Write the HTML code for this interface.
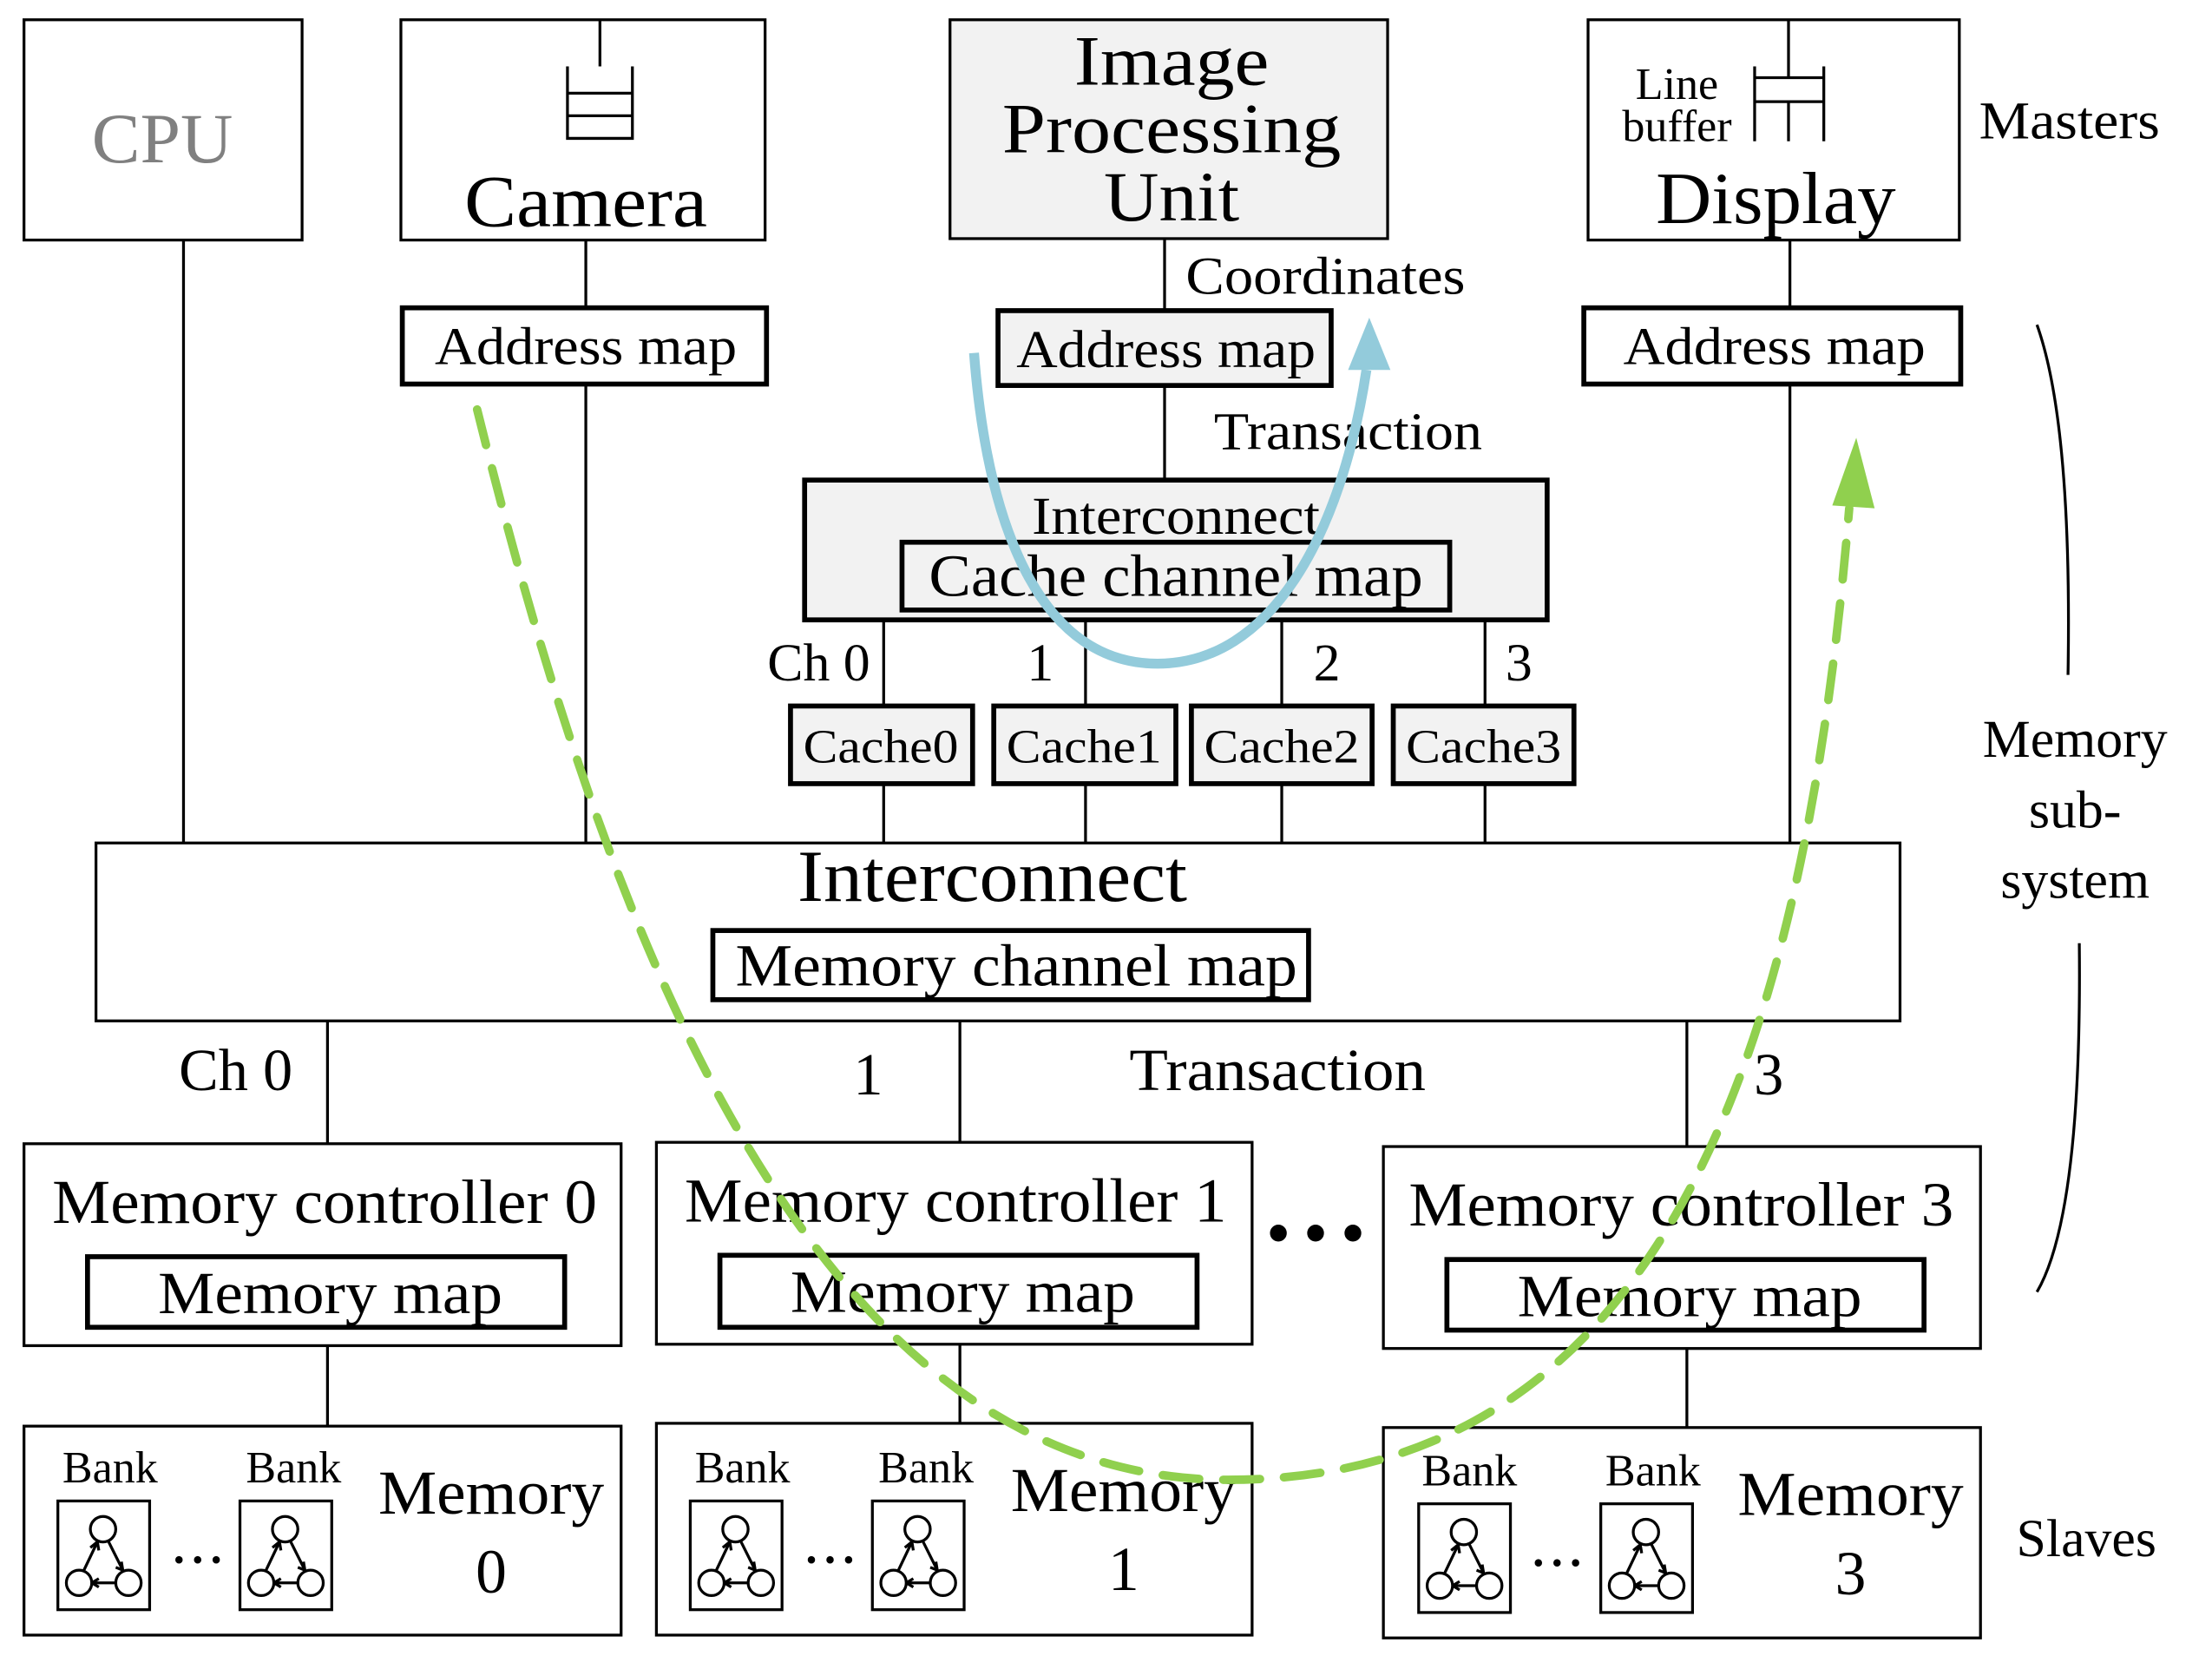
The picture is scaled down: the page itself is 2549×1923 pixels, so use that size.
<!DOCTYPE html>
<html><head><meta charset="utf-8"><style>
html,body{margin:0;padding:0;background:#fff}
svg{display:block}
text{font-family:"Liberation Serif",serif;fill:#000}
</style></head><body>
<svg width="2549" height="1923" viewBox="0 0 1567 1182" preserveAspectRatio="none" xmlns="http://www.w3.org/2000/svg">
<defs>
<g id="bank">
<rect x="0" y="0" width="65" height="77" fill="none" stroke="#000" stroke-width="2"/>
<circle cx="32" cy="20" r="9" fill="none" stroke="#000" stroke-width="2"/>
<circle cx="15" cy="58" r="9" fill="none" stroke="#000" stroke-width="2"/>
<circle cx="50" cy="58" r="9" fill="none" stroke="#000" stroke-width="2"/>
<path d="M28 29 L18 50 M36 29 L46 49 M41 58 L24 58" stroke="#000" stroke-width="2" fill="none"/>
<path d="M28 29 l-5 4 M28 29 l1 6 M46 49 l-1-6 M46 49 l-5-2 M24 58 l5-3 M24 58 l5 3" stroke="#000" stroke-width="2" fill="none"/>
</g>
</defs>
<g fill="none" stroke="#000" stroke-width="2">
<rect x="17" y="14" width="197" height="156"/>
<rect x="284" y="14" width="258" height="156"/>
<rect x="673" y="14" width="310" height="155" fill="#f2f2f2"/>
<rect x="1125" y="14" width="263" height="156"/>
<path d="M425 14 V47 M402 47 V98 H448 V47 M402 66 H448 M402 82 H448"/>
<path d="M1267 14 V55 M1243 47 V100 M1292 47 V100 M1243 55 H1292 M1243 72 H1292 M1267 72 V100"/>
<path d="M130 170 V597 M415 170 V218 M415 272 V597 M825 169 V220 M825 273 V340 M1268 170 V218 M1268 272 V597"/>
<path d="M626 439 V500 M769 439 V500 M908 439 V500 M1052 439 V500 M626 555 V597 M769 555 V597 M908 555 V597 M1052 555 V597"/>
<rect x="68" y="597" width="1278" height="126"/>
<path d="M232 723 V810 M680 723 V809 M1195 723 V812 M232 953 V1010 M680 952 V1008 M1195 955 V1011"/>
<rect x="17" y="810" width="423" height="143"/>
<rect x="465" y="809" width="422" height="143"/>
<rect x="980" y="812" width="423" height="143"/>
<rect x="17" y="1010" width="423" height="148"/>
<rect x="465" y="1008" width="422" height="150"/>
<rect x="980" y="1011" width="423" height="149"/>
</g>
<g fill="none" stroke="#000" stroke-width="3.5">
<rect x="285" y="218" width="258" height="54"/>
<rect x="707" y="220" width="236" height="53" fill="#f2f2f2"/>
<rect x="1122" y="218" width="267" height="54"/>
<rect x="570" y="340" width="526" height="99" fill="#f2f2f2"/>
<rect x="639" y="384" width="388" height="48"/>
<rect x="560" y="500" width="129" height="55" fill="#f2f2f2"/>
<rect x="704" y="500" width="129" height="55" fill="#f2f2f2"/>
<rect x="844" y="500" width="128" height="55" fill="#f2f2f2"/>
<rect x="987" y="500" width="128" height="55" fill="#f2f2f2"/>
<rect x="505" y="659" width="422" height="49"/>
<rect x="62" y="890" width="338" height="50"/>
<rect x="510" y="889" width="338" height="51"/>
<rect x="1025" y="892" width="338" height="50"/>
</g>
<use href="#bank" x="41" y="1063"/><use href="#bank" x="170" y="1063"/>
<use href="#bank" x="489" y="1063"/><use href="#bank" x="618" y="1063"/>
<use href="#bank" x="1005" y="1065"/><use href="#bank" x="1134" y="1065"/>
<path d="M1443 230 Q1468 300 1465 478 M1473 668 Q1475 860 1443 915" fill="none" stroke="#000" stroke-width="2"/>
<g text-anchor="middle" font-size="38">
<text x="115" y="115" font-size="50" fill="#808080" style="fill:#808080" textLength="100" lengthAdjust="spacingAndGlyphs">CPU</text>
<text x="415" y="160" font-size="52" textLength="172" lengthAdjust="spacingAndGlyphs">Camera</text>
<text x="830" y="60" font-size="50" textLength="138" lengthAdjust="spacingAndGlyphs">Image</text>
<text x="830" y="108" font-size="50" textLength="240" lengthAdjust="spacingAndGlyphs">Processing</text>
<text x="830" y="156" font-size="50" textLength="96" lengthAdjust="spacingAndGlyphs">Unit</text>
<text x="1188" y="70" font-size="32">Line</text>
<text x="1188" y="100" font-size="32">buffer</text>
<text x="1258" y="158" font-size="52" textLength="170" lengthAdjust="spacingAndGlyphs">Display</text>
<text x="1466" y="98" textLength="128" lengthAdjust="spacingAndGlyphs">Masters</text>
<text x="415" y="258" textLength="214" lengthAdjust="spacingAndGlyphs">Address map</text>
<text x="826" y="260" textLength="212" lengthAdjust="spacingAndGlyphs">Address map</text>
<text x="1257" y="258" textLength="214" lengthAdjust="spacingAndGlyphs">Address map</text>
<text x="939" y="208" textLength="198" lengthAdjust="spacingAndGlyphs">Coordinates</text>
<text x="955" y="318" textLength="190" lengthAdjust="spacingAndGlyphs">Transaction</text>
<text x="833" y="378" textLength="204" lengthAdjust="spacingAndGlyphs">Interconnect</text>
<text x="833" y="422" font-size="42" textLength="350" lengthAdjust="spacingAndGlyphs">Cache channel map</text>
<text x="580" y="482">Ch 0</text>
<text x="737" y="482">1</text>
<text x="940" y="482">2</text>
<text x="1076" y="482">3</text>
<text x="624" y="540" font-size="34" textLength="110" lengthAdjust="spacingAndGlyphs">Cache0</text>
<text x="768" y="540" font-size="34" textLength="110" lengthAdjust="spacingAndGlyphs">Cache1</text>
<text x="908" y="540" font-size="34" textLength="110" lengthAdjust="spacingAndGlyphs">Cache2</text>
<text x="1051" y="540" font-size="34" textLength="110" lengthAdjust="spacingAndGlyphs">Cache3</text>
<text x="703" y="638" font-size="52" textLength="276" lengthAdjust="spacingAndGlyphs">Interconnect</text>
<text x="720" y="698" font-size="42" textLength="398" lengthAdjust="spacingAndGlyphs">Memory channel map</text>
<text x="167" y="772" font-size="42">Ch 0</text>
<text x="615" y="775" font-size="42">1</text>
<text x="905" y="772" font-size="42" textLength="210" lengthAdjust="spacingAndGlyphs">Transaction</text>
<text x="1253" y="775" font-size="42">3</text>
<text x="230" y="866" font-size="44" textLength="386" lengthAdjust="spacingAndGlyphs">Memory controller 0</text>
<text x="677" y="865" font-size="44" textLength="384" lengthAdjust="spacingAndGlyphs">Memory controller 1</text>
<text x="1191" y="868" font-size="44" textLength="386" lengthAdjust="spacingAndGlyphs">Memory controller 3</text>
<text x="234" y="930" font-size="42" textLength="244" lengthAdjust="spacingAndGlyphs">Memory map</text>
<text x="682" y="929" font-size="42" textLength="244" lengthAdjust="spacingAndGlyphs">Memory map</text>
<text x="1197" y="932" font-size="42" textLength="244" lengthAdjust="spacingAndGlyphs">Memory map</text>
<text x="932" y="888" font-size="44" font-weight="bold">• • •</text>
<text x="78" y="1050" font-size="32">Bank</text><text x="208" y="1050" font-size="32">Bank</text>
<text x="526" y="1050" font-size="32">Bank</text><text x="656" y="1050" font-size="32">Bank</text>
<text x="1041" y="1052" font-size="32">Bank</text><text x="1171" y="1052" font-size="32">Bank</text>
<text x="140" y="1112" font-size="22">• • •</text>
<text x="588" y="1112" font-size="22">• • •</text>
<text x="1103" y="1114" font-size="22">• • •</text>
<text x="348" y="1072" font-size="44" textLength="160" lengthAdjust="spacingAndGlyphs">Memory</text>
<text x="348" y="1128" font-size="44">0</text>
<text x="796" y="1070" font-size="44" textLength="160" lengthAdjust="spacingAndGlyphs">Memory</text>
<text x="796" y="1126" font-size="44">1</text>
<text x="1311" y="1073" font-size="44" textLength="160" lengthAdjust="spacingAndGlyphs">Memory</text>
<text x="1311" y="1129" font-size="44">3</text>
<text x="1470" y="536">Memory</text>
<text x="1470" y="586">sub-</text>
<text x="1470" y="636">system</text>
<text x="1478" y="1102">Slaves</text>
</g>
<path d="M690 250 C700 380 740 470 820 470 C900 470 950 380 968 262" fill="none" stroke="#93cbdb" stroke-width="7"/>
<path d="M955 262 L970 225 L985 262 Z" fill="#93cbdb"/>
<path d="M338 290 C420 620 560 1048 870 1048 C1190 1048 1280 720 1310 360" fill="none" stroke="#90d04e" stroke-width="6" stroke-dasharray="26 17" stroke-linecap="round"/>
<path d="M1298 358 L1315 310 L1328 360 Z" fill="#90d04e"/>
</svg>
</body></html>
